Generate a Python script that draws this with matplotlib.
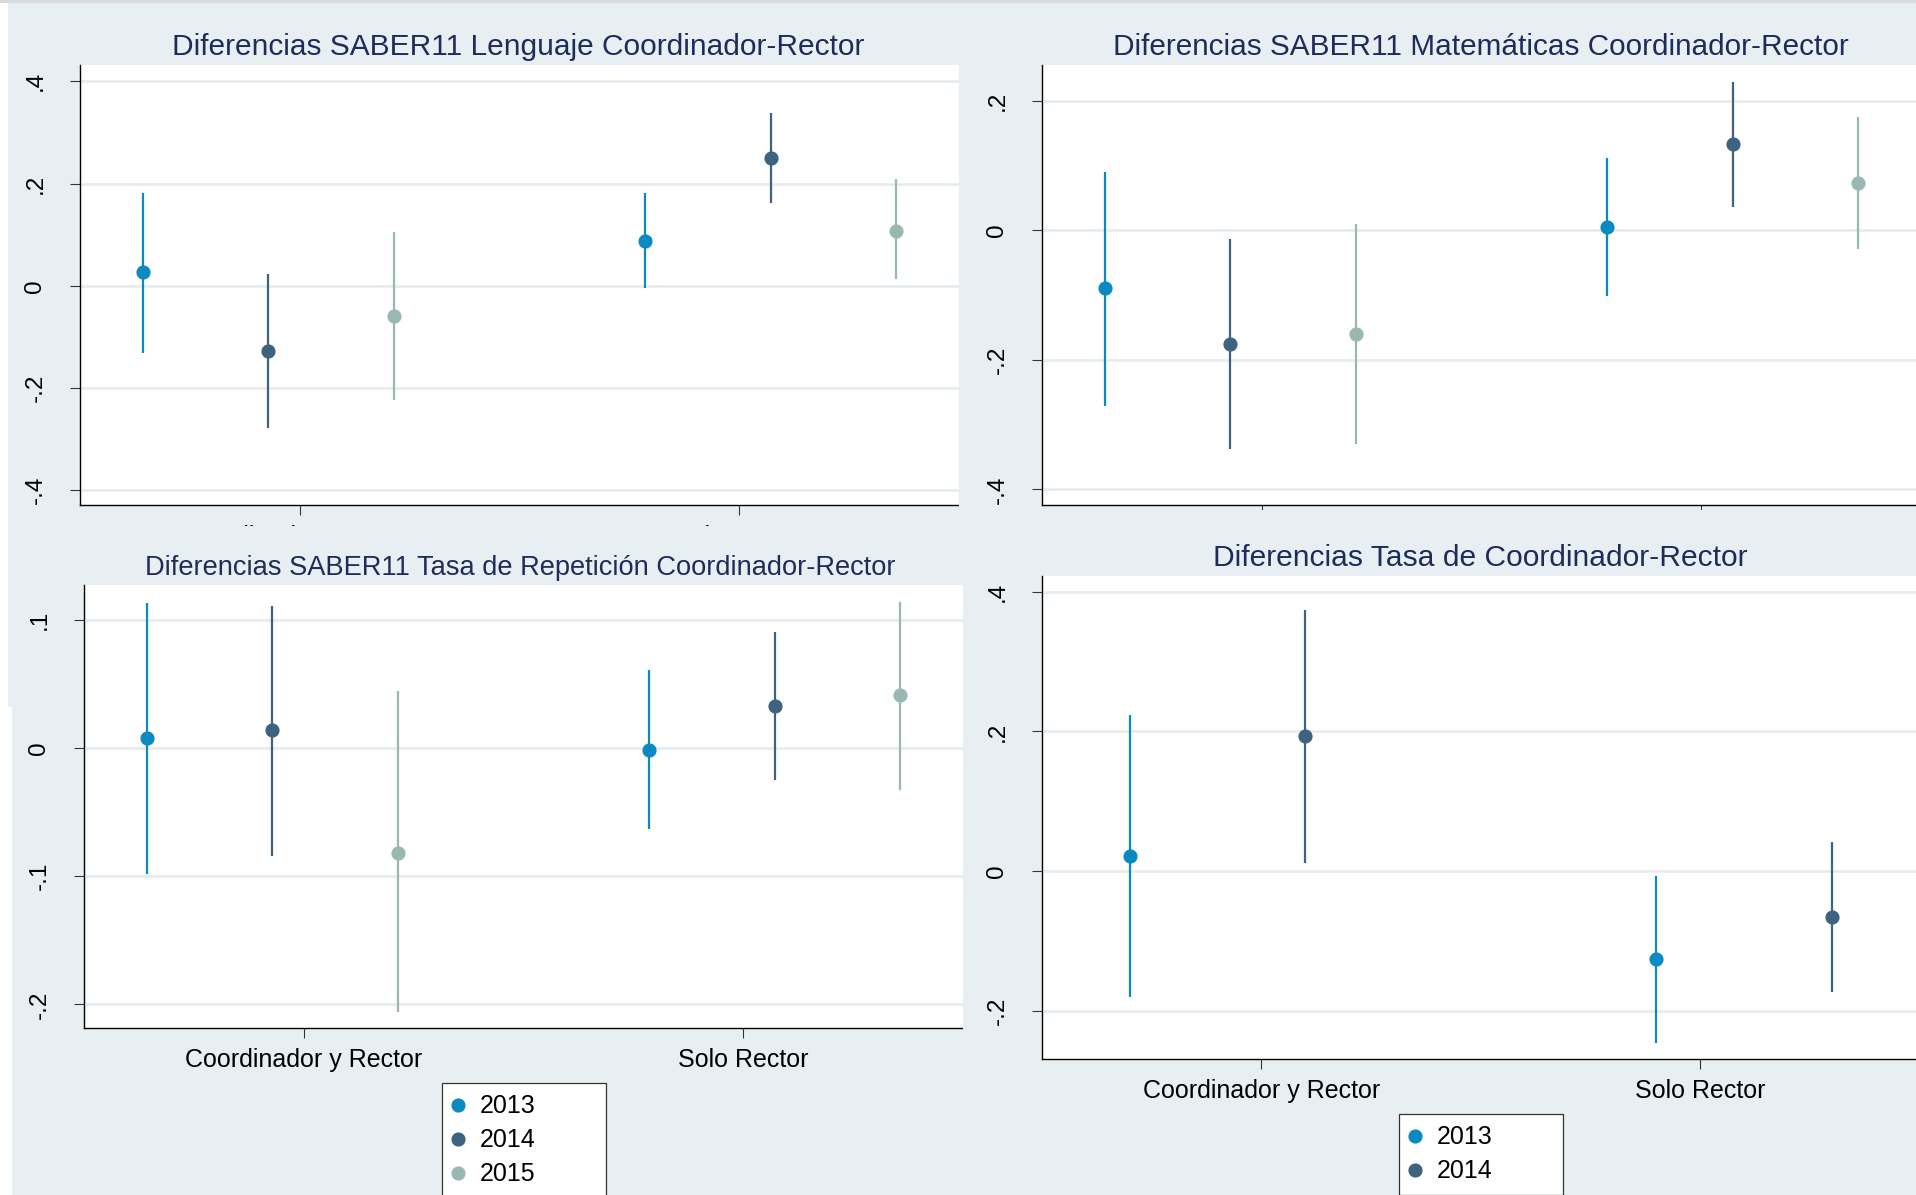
import matplotlib
matplotlib.use("Agg")
import matplotlib.pyplot as plt
from matplotlib.patches import Rectangle

plt.rcParams['font.family'] = ['Liberation Sans', 'DejaVu Sans']

# ---------------- data ----------------
categories = ["Coordinador y Rector", "Solo Rector"]
years = ["2013", "2014", "2015"]

# rows = year (2013, 2014, 2015), cols = category (Coordinador y Rector, Solo Rector)
leng_est = [[0.027, 0.088], [-0.127, 0.250], [-0.060, 0.108]]
leng_lo = [[-0.131, -0.004], [-0.278, 0.161], [-0.224, 0.013]]
leng_hi = [[0.182, 0.181], [0.024, 0.339], [0.105, 0.208]]

mate_est = [[-0.089, 0.005], [-0.176, 0.133], [-0.160, 0.073]]
mate_lo = [[-0.271, -0.102], [-0.338, 0.036], [-0.330, -0.029]]
mate_hi = [[0.090, 0.112], [-0.013, 0.229], [0.010, 0.174]]

rep_est = [[0.008, -0.002], [0.014, 0.033], [-0.082, 0.041]]
rep_lo = [[-0.098, -0.063], [-0.084, -0.025], [-0.206, -0.033]]
rep_hi = [[0.113, 0.061], [0.111, 0.090], [0.044, 0.114]]

tasa_est = [[0.022, -0.126], [0.193, -0.066]]
tasa_lo = [[-0.180, -0.246], [0.012, -0.174]]
tasa_hi = [[0.223, -0.007], [0.374, 0.041]]

leng_yticks = [-0.4, -0.2, 0, 0.2, 0.4]
leng_yticklabels = ["-.4", "-.2", "0", ".2", ".4"]
mate_yticks = [-0.4, -0.2, 0, 0.2]
mate_yticklabels = ["-.4", "-.2", "0", ".2"]
rep_yticks = [-0.2, -0.1, 0, 0.1]
rep_yticklabels = ["-.2", "-.1", "0", ".1"]
tasa_yticks = [-0.2, 0, 0.2, 0.4]
tasa_yticklabels = ["-.2", "0", ".2", ".4"]

titles = ["Diferencias SABER11 Lenguaje Coordinador-Rector",
          "Diferencias SABER11 Matemáticas Coordinador-Rector",
          "Diferencias SABER11 Tasa de Repetición Coordinador-Rector",
          "Diferencias Tasa de Coordinador-Rector"]

# ---------------- style ----------------
W, H = 1916, 1195
BG = '#E8EFF2'
GRID = '#E4ECEF'
TITLE_C = '#1E2C5A'
colors = ['#0A8AC0', '#3E6380', '#99B8B1']

fig = plt.figure(figsize=(W / 100, H / 100), dpi=100)
fig.patch.set_facecolor('white')


def rect(x0, y0, x1, y1):
    return [x0 / W, 1 - y1 / H, (x1 - x0) / W, (y1 - y0) / H]


def background(x0, y0, x1, y1):
    a = fig.add_axes(rect(x0, y0, x1, y1))
    a.set_facecolor(BG)
    a.set_xticks([])
    a.set_yticks([])
    for s in a.spines.values():
        s.set_visible(False)
    return a


def panel(box, est, lo, hi, ylim, yticks, yticklabels, show_xlabels=True):
    ax = fig.add_axes(rect(*box))
    ax.set_facecolor('white')
    n = len(est)
    handles = []
    for i in range(n):
        xs = [1 + i + g * (n + 1) for g in range(len(categories))]
        ax.vlines(xs, lo[i], hi[i], color=colors[i], lw=1.6, zorder=3)
        h, = ax.plot(xs, est[i], 'o', color=colors[i], ms=9.2, mec=colors[i],
                     zorder=4, label=years[i], clip_on=False)
        handles.append(h)
    x0, x1 = 0.5, 2 * n + 1.5
    ax.set_xlim(x0, x1)
    ax.set_ylim(*ylim)
    span = x1 - x0
    ax.set_xticks([x0 + 0.25 * span, x0 + 0.75 * span])
    ax.set_xticklabels(categories, fontsize=18)
    ax.set_yticks(yticks)
    ax.set_yticklabels(yticklabels, rotation=90, va='center', fontsize=17.5)
    ax.grid(axis='y', color=GRID, lw=1.8, zorder=0)
    ax.set_axisbelow(True)
    ax.tick_params(axis='y', length=7.2, width=0.8, color='#333333', pad=17)
    ax.tick_params(axis='x', length=7.2, width=0.8, color='#333333', pad=7.5,
                   labelbottom=show_xlabels)
    for s in ['top', 'right']:
        ax.spines[s].set_visible(False)
    for s in ['left', 'bottom']:
        ax.spines[s].set_color('black')
        ax.spines[s].set_linewidth(1.0)
    return ax, handles


# top-left
background(8, 3, 1000, 707)
panel((80, 65, 959, 505), leng_est, leng_lo, leng_hi, (-0.429, 0.432),
      leng_yticks, leng_yticklabels)
fig.text(518 / W, 1 - 55 / H, titles[0], ha='center', va='baseline',
         fontsize=21.5, color=TITLE_C)

# top-right (its category labels lie hidden under the lower-right graph)
background(959, 3, 1916, 600)
panel((1042, 65, 1921, 505), mate_est, mate_lo, mate_hi, (-0.424, 0.255),
      mate_yticks, mate_yticklabels, show_xlabels=False)
fig.text(1481 / W, 1 - 55 / H, titles[1], ha='center', va='baseline',
         fontsize=21.4, color=TITLE_C)

# bottom-left
background(12, 526, 963, 1195)
axbl, hbl = panel((84, 585, 963, 1027.5), rep_est, rep_lo, rep_hi, (-0.218, 0.127),
                  rep_yticks, rep_yticklabels)
fig.text(520 / W, 1 - 575 / H, titles[2], ha='center', va='baseline',
         fontsize=19.6, color=TITLE_C)

# bottom-right
background(963, 510, 1916, 1195)
axbr, hbr = panel((1042, 576, 1919.5, 1058.5), tasa_est, tasa_lo, tasa_hi,
                  (-0.2686, 0.4226), tasa_yticks, tasa_yticklabels)
fig.text(1480.5 / W, 1 - 566 / H, titles[3], ha='center', va='baseline',
         fontsize=21.6, color=TITLE_C)

# top grey strip
fig.patches.append(Rectangle((0, 1 - 3 / H), 1, 3 / H, transform=fig.transFigure,
                             facecolor='#D9D9D9', edgecolor='none', zorder=10))


def legend(handles, x0, y0, x1):
    leg = fig.legend(handles=handles, loc='upper left',
                     bbox_to_anchor=(x0 / W, 1 - y0 / H - 0.3, (x1 - x0) / W, 0.3),
                     bbox_transform=fig.transFigure, mode='expand', ncol=1,
                     fontsize=18, frameon=True, fancybox=False, framealpha=1,
                     borderpad=0.45, handlelength=0.38, handletextpad=0.69,
                     labelspacing=0.4, borderaxespad=0, markerscale=1.0)
    fr = leg.get_frame()
    fr.set_edgecolor('#333333')
    fr.set_linewidth(0.9)
    fr.set_facecolor('white')
    return leg


legend(hbl, 442, 1083, 606)
legend(hbr, 1399, 1114, 1563)

fig.savefig('out.png', dpi=100, facecolor='white')
